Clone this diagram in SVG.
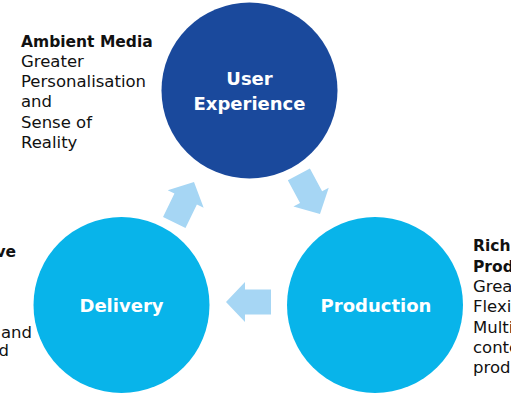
<svg xmlns="http://www.w3.org/2000/svg" width="511" height="400" viewBox="0 0 511 400">
<defs>
<style>
.node-dark{fill:#1a499c}
.node-light{fill:#08b4ea}
.arrow{fill:#a6d6f4}
.ctext{font-family:"DejaVu Sans",sans-serif;font-weight:bold;font-size:18px;fill:#ffffff;text-anchor:middle}
.title{font-family:"DejaVu Sans",sans-serif;font-weight:bold;font-size:15.5px;fill:#111111}
.body{font-family:"DejaVu Sans",sans-serif;font-size:16.5px;fill:#111111}
</style>
<polygon id="blockArrow" points="0,0 -19,-20 -19,-12.5 -45,-12.5 -45,12.5 -19,12.5 -19,20"/>
</defs>
<rect width="511" height="400" fill="#ffffff"/>
<g id="connectors">
<use href="#blockArrow" class="arrow" transform="translate(194,182) rotate(-64)"/>
<use href="#blockArrow" class="arrow" transform="translate(320,214) rotate(62)"/>
<use href="#blockArrow" class="arrow" transform="translate(226,302) rotate(180)"/>
</g>
<g id="user-experience">
<circle class="node-dark" cx="249.5" cy="90.5" r="88"/>
<text class="ctext" x="249.5" y="85">User</text>
<text class="ctext" x="249.5" y="110">Experience</text>
</g>
<g id="delivery">
<circle class="node-light" cx="121.5" cy="305" r="88"/>
<text class="ctext" x="121.5" y="312">Delivery</text>
</g>
<g id="production">
<circle class="node-light" cx="375" cy="305" r="88"/>
<text class="ctext" x="376" y="312">Production</text>
</g>
<g id="ambient-media-label">
<text class="title" x="21" y="46.5">Ambient Media</text>
<text class="body" x="21" y="66.8">Greater</text>
<text class="body" x="21" y="87.1">Personalisation</text>
<text class="body" x="21" y="107.4">and</text>
<text class="body" x="21" y="127.7">Sense of</text>
<text class="body" x="21" y="148">Reality</text>
</g>
<g id="delivery-label">
<text class="title" x="16" y="257" text-anchor="end">ve</text>
<text class="body" x="32" y="338" text-anchor="end">and</text>
<text class="body" x="9" y="356" text-anchor="end">d</text>
</g>
<g id="production-label">
<text class="title" x="473" y="251">Rich</text>
<text class="title" x="473" y="271.5">Prod</text>
<text class="body" x="473" y="292">Grea</text>
<text class="body" x="473" y="312">Flexi</text>
<text class="body" x="473" y="332.5">Multi</text>
<text class="body" x="473" y="353">conte</text>
<text class="body" x="473" y="373">prod</text>
</g>
</svg>
